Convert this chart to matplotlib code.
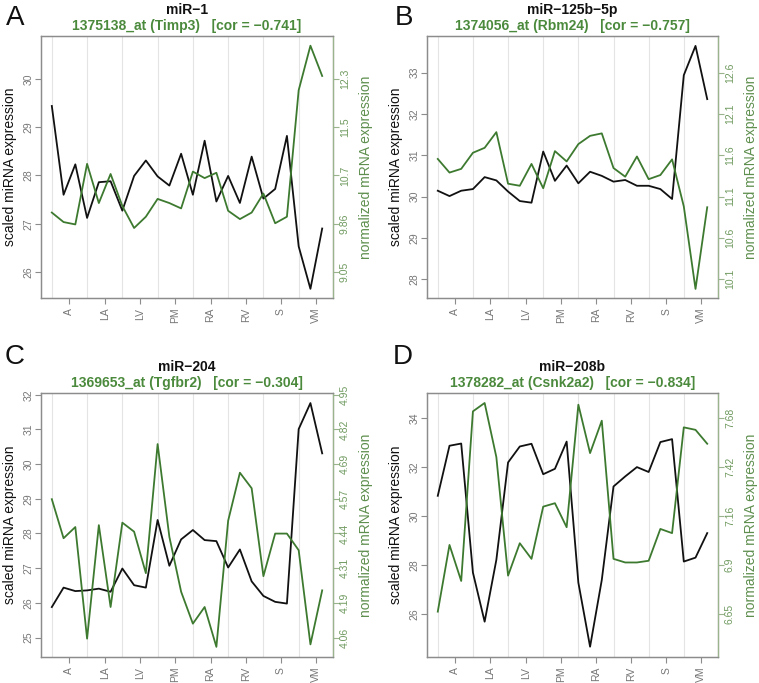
import matplotlib
matplotlib.use("Agg")
import matplotlib.pyplot as plt

plt.rcParams['font.family'] = ['Liberation Sans', 'DejaVu Sans']

# tissue groups, 3 samples each
groups = ["A", "LA", "LV", "PM", "RA", "RV", "S", "VM"]

# panel A: miR-1 vs Timp3
mir_a = [29.44, 27.6, 28.23, 27.12, 27.86, 27.88, 27.27, 27.99, 28.31, 27.98, 27.79, 28.45,
         27.6, 28.72, 27.46, 27.99, 27.43, 28.39, 27.52, 27.72, 28.82, 26.53, 25.65, 26.9]
mrna_a = [10.05, 9.89, 9.85, 10.87, 10.21, 10.70, 10.16, 9.79, 9.98, 10.28, 10.21, 10.12,
          10.74, 10.63, 10.72, 10.08, 9.94, 10.05, 10.37, 9.87, 9.98, 12.11, 12.86, 12.35]

# panel B: miR-125b-5p vs Rbm24
mir_b = [30.14, 30.01, 30.14, 30.18, 30.47, 30.39, 30.12, 29.89, 29.85, 31.09, 30.38, 30.75,
         30.32, 30.6, 30.5, 30.36, 30.4, 30.26, 30.26, 30.18, 29.94, 32.94, 33.65, 32.36]
mrna_b = [11.555, 11.39, 11.435, 11.63, 11.69, 11.88, 11.255, 11.23, 11.495, 11.2, 11.65, 11.525,
          11.735, 11.835, 11.865, 11.445, 11.34, 11.585, 11.31, 11.36, 11.55, 10.98, 9.98, 10.97]

# panel C: miR-204 vs Tgfbr2
mir_c = [25.88, 26.44, 26.34, 26.36, 26.41, 26.32, 26.99, 26.51, 26.44, 28.39, 27.07, 27.83,
         28.1, 27.81, 27.78, 27.02, 27.54, 26.62, 26.2, 26.03, 25.98, 31.01, 31.76, 30.31]
mrna_c = [4.567, 4.424, 4.465, 4.056, 4.472, 4.172, 4.481, 4.448, 4.296, 4.769, 4.429, 4.228,
          4.111, 4.172, 4.026, 4.488, 4.664, 4.607, 4.285, 4.441, 4.441, 4.38, 4.035, 4.233]

# panel D: miR-208b vs Csnk2a2
mir_d = [30.83, 32.87, 32.96, 27.7, 25.7, 28.22, 32.19, 32.84, 32.95, 31.71, 31.93, 33.04,
         27.29, 24.68, 27.4, 31.21, 31.62, 32.0, 31.8, 33.02, 33.14, 28.15, 28.31, 29.31]
mrna_d = [6.664, 7.014, 6.825, 7.715, 7.759, 7.475, 6.853, 7.023, 6.941, 7.215, 7.233, 7.107,
          7.75, 7.496, 7.666, 6.941, 6.922, 6.922, 6.931, 7.098, 7.076, 7.631, 7.618, 7.545]

letters = ["A", "B", "C", "D"]
mirnas = ["miR\u22121", "miR\u2212125b\u22125p", "miR\u2212204", "miR\u2212208b"]
probes = ["1375138_at (Timp3)   [cor = \u22120.741]",
          "1374056_at (Rbm24)   [cor = \u22120.757]",
          "1369653_at (Tgfbr2)   [cor = \u22120.304]",
          "1378282_at (Csnk2a2)   [cor = \u22120.834]"]
left_ticks = [[26, 27, 28, 29, 30], [28, 29, 30, 31, 32, 33],
              [25, 26, 27, 28, 29, 30, 31, 32], [26, 28, 30, 32, 34]]
right_labels = [["9.05", "9.86", "10.7", "11.5", "12.3"],
                ["10.1", "10.6", "11.1", "11.6", "12.1", "12.6"],
                ["4.06", "4.19", "4.31", "4.44", "4.57", "4.69", "4.82", "4.95"],
                ["6.65", "6.9", "7.16", "7.42", "7.68"]]
mir_all = [mir_a, mir_b, mir_c, mir_d]
mrna_all = [mrna_a, mrna_b, mrna_c, mrna_d]

# layout / scale mapping between the two y axes
ylims = [(25.46, 30.89), (27.54, 33.89), (24.44, 32.05), (24.26, 35.02)]
# (left value, right value, right units per left unit)
maps = [(26, 9.05, 0.8125), (28, 10.1, 0.5), (25, 4.06, 0.1271), (26, 6.65, 0.12875)]
rects = [(41, 36, 333, 298), (427, 36, 718, 298), (41, 393, 333, 657), (427, 393, 718, 657)]
letter_pos = [(6, 5), (395, 5), (5, 344), (393, 344)]

W, H = 759, 683
GREEN = "#3d7a30"
TGREEN = "#4b8a3c"
GRAY = "#8c8c8c"

fig = plt.figure(figsize=(W / 100, H / 100), dpi=100)
x = list(range(24))
xt = [1.5 + 3 * k for k in range(8)]

for p in range(4):
    l, t, r, b = rects[p]
    ax = fig.add_axes([l / W, 1 - b / H, (r - l) / W, (b - t) / H])
    for k in range(8):
        ax.axvline(3 * k, color="#e4e4e4", lw=0.8, zorder=0)
    ax.plot(x, mir_all[p], color="#111111", lw=1.3, zorder=3)
    ax.set_xlim(-0.92, 23.92)
    ax.set_ylim(*ylims[p])
    ax.set_yticks(left_ticks[p])
    ax.set_yticklabels([str(v) for v in left_ticks[p]], rotation=90, va="center")
    ax.set_xticks(xt)
    ax.set_xticklabels(groups, rotation=90)
    ax.tick_params(axis="both", colors=GRAY, labelsize=7.5, length=4, width=0.8, pad=3)
    ax.tick_params(axis="y", labelcolor="#777777", pad=1.5)
    ax.tick_params(axis="x", labelcolor="#777777")
    for s in ax.spines.values():
        s.set_color(GRAY)
        s.set_linewidth(0.9)

    v0, m0, k0 = maps[p]
    ax2 = ax.twinx()
    ax2.plot(x, mrna_all[p], color=GREEN, lw=1.3, zorder=3)
    y0, y1 = ylims[p]
    ax2.set_ylim(m0 + (y0 - v0) * k0, m0 + (y1 - v0) * k0)
    ax2.set_yticks([m0 + (v - v0) * k0 for v in left_ticks[p]])
    ax2.set_yticklabels(right_labels[p], rotation=90, va="center")
    ax2.tick_params(axis="y", colors="#9ab58e", labelcolor="#6f9a5f", labelsize=7.5,
                    length=4, width=0.8, pad=1)
    for s in ax2.spines.values():
        s.set_color(GRAY)
        s.set_linewidth(0.9)
    ax2.spines["right"].set_color("#9ab58e")

    yc = 1 - (t + b) / 2 / H
    fig.text((l - 31) / W, yc, "scaled miRNA expression", rotation=90, ha="center",
             va="center", fontsize=10, color="#111111")
    fig.text((r + 33) / W, yc, "normalized mRNA expression", rotation=90, ha="center",
             va="center", fontsize=10, color="#5e8f4e")

    ax.annotate(mirnas[p], xy=(0.5, 1), xycoords="axes fraction", xytext=(0, 16),
                textcoords="offset points", ha="center", va="baseline",
                fontsize=10, fontweight="bold", color="#111111")
    ax.annotate(probes[p], xy=(0.5, 1), xycoords="axes fraction", xytext=(0, 4.5),
                textcoords="offset points", ha="center", va="baseline",
                fontsize=10, fontweight="bold", color=TGREEN)

    lx, ly = letter_pos[p]
    fig.text(lx / W, 1 - ly / H, letters[p], fontsize=20, va="top", ha="left", color="#111111")

fig.savefig("out.png", dpi=100)
